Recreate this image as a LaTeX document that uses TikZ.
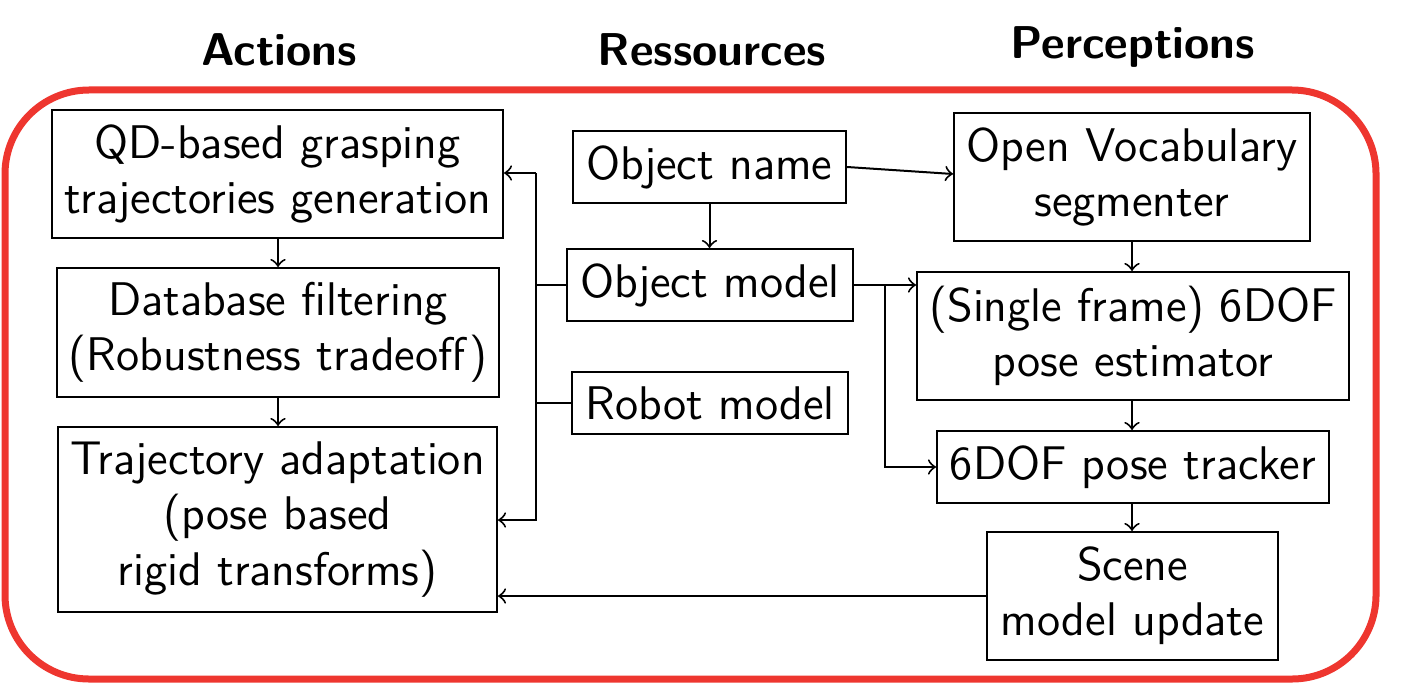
\documentclass[tikz,border=0pt]{standalone}
\usepackage{fontspec}
\usetikzlibrary{arrows}
\definecolor{framered}{RGB}{238,54,47}
\begin{document}
\begin{tikzpicture}[x=0.25pt,y=-0.25pt,
  box/.style={draw, line width=0.5pt, rectangle, inner sep=0pt, align=center,
    font=\fontsize{11.8}{13.8}\selectfont\sffamily},
  title/.style={font=\fontsize{11.5}{14}\selectfont\sffamily\bfseries, inner sep=0pt},
  conn/.style={line width=0.5pt},
  arr/.style={conn, ->}]
\useasboundingbox (0,0) rectangle (1408,684);
\draw[framered, line width=1.75pt, rounded corners=21pt] (5,90) rectangle (1376,679);
\node[title] (tA) at (279,50) {Actions};
\node[title] (tR) at (712,50) {Ressources};
\node[title] (tP) at (1133,47) {Perceptions};
% left column
\node[box, minimum width=112.75pt, minimum height=32pt] (qd) at (277.5,174) {QD-based grasping\\trajectories generation};
\node[box, minimum width=110.5pt, minimum height=32.25pt] (db) at (278,332.5) {Database filtering\\(Robustness tradeoff)};
\node[box, minimum width=109.75pt, minimum height=46.25pt] (ta) at (277.5,519.5) {Trajectory adaptation\\(pose based\\rigid transforms)};
% middle
\node[box, minimum width=68.25pt, minimum height=18pt] (on) at (709.5,167) {Object name};
\node[box, minimum width=71.5pt, minimum height=18pt] (om) at (710,285) {Object model};
\node[box, minimum width=69pt, minimum height=15.5pt] (rm) at (710,403) {Robot model};
% right
\node[box, minimum width=89pt, minimum height=32pt] (ov) at (1132,177) {Open Vocabulary\\segmenter};
\node[box, minimum width=108pt, minimum height=32pt] (sf) at (1133,336) {(Single frame) 6DOF\\pose estimator};
\node[box, minimum width=98pt, minimum height=18pt] (pt) at (1133,467) {6DOF pose tracker};
\node[box, minimum width=72.75pt, minimum height=32pt] (sc) at (1132.5,596) {Scene\\model update};
% bus
\coordinate (busT) at (536,173);
\coordinate (busB) at (536,520);
\draw[arr] (busT) -- (qd.east |- busT);
\draw[arr] (busT) -- (busB) -- (ta.east |- busB);
\draw[conn] (om.west) -- (om.west -| busT);
\draw[conn] (rm.west) -- (rm.west -| busT);
% arrows
\draw[arr] (qd.south -| 278,0) -- (db.north -| 278,0);
\draw[arr] (db.south -| 278,0) -- (ta.north -| 278,0);
\draw[arr] (on.south) -- (om.north -| on.south);
\draw[arr] (on.east) -- (ov.west |- 0,174);
\coordinate (br) at (885,285);
\draw[arr] (om.east) -- (sf.west |- om.east);
\draw[arr] (br) -- (br |- pt.west) -- (pt.west);
\draw[arr] (ov.south -| 1132,0) -- (sf.north -| 1132,0);
\draw[arr] (sf.south -| 1132,0) -- (pt.north -| 1132,0);
\draw[arr] (pt.south -| 1132,0) -- (sc.north -| 1132,0);
\draw[arr] (sc.west) -- (ta.east |- sc.west);
\end{tikzpicture}
\end{document}
